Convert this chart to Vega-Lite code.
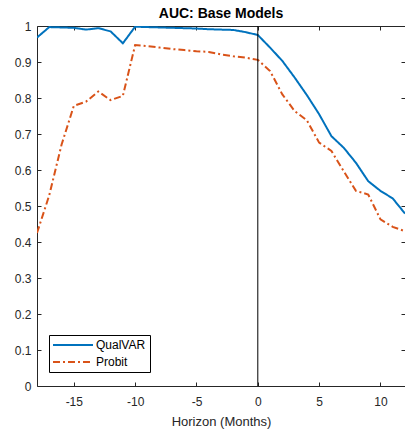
{
  "$schema": "https://vega.github.io/schema/vega-lite/v6.json",
  "width": 368,
  "height": 360,
  "autosize": "none",
  "padding": {"left": 37, "top": 26, "right": 0, "bottom": 44},
  "config": {
    "view": {"stroke": null},
    "font": "Liberation Sans",
    "axis": {"grid": false, "domainColor": "#262626", "tickColor": "#262626", "labelColor": "#262626", "titleColor": "#262626", "labelFont": "Liberation Sans", "titleFont": "Liberation Sans", "labelFontSize": 12, "titleFontSize": 13, "titleFontWeight": "normal", "domainWidth": 1, "tickWidth": 1}
  },
  "title": {"text": "AUC: Base Models", "fontSize": 14, "fontWeight": "bold", "font": "Liberation Sans", "color": "black", "offset": -1, "anchor": "middle"},
  "layer": [
    {
      "data": {"values": [
        {"h": -18, "model": "QualVAR", "auc": 0.968},
        {"h": -17, "model": "QualVAR", "auc": 0.997},
        {"h": -16, "model": "QualVAR", "auc": 0.996},
        {"h": -15, "model": "QualVAR", "auc": 0.995},
        {"h": -14, "model": "QualVAR", "auc": 0.99},
        {"h": -13, "model": "QualVAR", "auc": 0.994},
        {"h": -12, "model": "QualVAR", "auc": 0.985},
        {"h": -11, "model": "QualVAR", "auc": 0.952},
        {"h": -10, "model": "QualVAR", "auc": 0.998},
        {"h": -9, "model": "QualVAR", "auc": 0.997},
        {"h": -8, "model": "QualVAR", "auc": 0.996},
        {"h": -7, "model": "QualVAR", "auc": 0.995},
        {"h": -6, "model": "QualVAR", "auc": 0.994},
        {"h": -5, "model": "QualVAR", "auc": 0.993},
        {"h": -4, "model": "QualVAR", "auc": 0.991},
        {"h": -3, "model": "QualVAR", "auc": 0.99},
        {"h": -2, "model": "QualVAR", "auc": 0.989},
        {"h": -1, "model": "QualVAR", "auc": 0.983},
        {"h": 0, "model": "QualVAR", "auc": 0.975},
        {"h": 1, "model": "QualVAR", "auc": 0.94},
        {"h": 2, "model": "QualVAR", "auc": 0.903},
        {"h": 3, "model": "QualVAR", "auc": 0.857},
        {"h": 4, "model": "QualVAR", "auc": 0.808},
        {"h": 5, "model": "QualVAR", "auc": 0.755},
        {"h": 6, "model": "QualVAR", "auc": 0.694},
        {"h": 7, "model": "QualVAR", "auc": 0.662},
        {"h": 8, "model": "QualVAR", "auc": 0.62},
        {"h": 9, "model": "QualVAR", "auc": 0.569},
        {"h": 10, "model": "QualVAR", "auc": 0.542},
        {"h": 11, "model": "QualVAR", "auc": 0.521},
        {"h": 12, "model": "QualVAR", "auc": 0.479},
        {"h": -18, "model": "Probit", "auc": 0.425},
        {"h": -17, "model": "Probit", "auc": 0.53},
        {"h": -16, "model": "Probit", "auc": 0.67},
        {"h": -15, "model": "Probit", "auc": 0.778},
        {"h": -14, "model": "Probit", "auc": 0.79},
        {"h": -13, "model": "Probit", "auc": 0.818},
        {"h": -12, "model": "Probit", "auc": 0.794},
        {"h": -11, "model": "Probit", "auc": 0.806},
        {"h": -10, "model": "Probit", "auc": 0.947},
        {"h": -9, "model": "Probit", "auc": 0.944},
        {"h": -8, "model": "Probit", "auc": 0.94},
        {"h": -7, "model": "Probit", "auc": 0.936},
        {"h": -6, "model": "Probit", "auc": 0.933},
        {"h": -5, "model": "Probit", "auc": 0.93},
        {"h": -4, "model": "Probit", "auc": 0.928},
        {"h": -3, "model": "Probit", "auc": 0.921},
        {"h": -2, "model": "Probit", "auc": 0.916},
        {"h": -1, "model": "Probit", "auc": 0.912},
        {"h": 0, "model": "Probit", "auc": 0.906},
        {"h": 1, "model": "Probit", "auc": 0.875},
        {"h": 2, "model": "Probit", "auc": 0.81},
        {"h": 3, "model": "Probit", "auc": 0.764},
        {"h": 4, "model": "Probit", "auc": 0.738},
        {"h": 5, "model": "Probit", "auc": 0.676},
        {"h": 6, "model": "Probit", "auc": 0.653},
        {"h": 7, "model": "Probit", "auc": 0.597},
        {"h": 8, "model": "Probit", "auc": 0.542},
        {"h": 9, "model": "Probit", "auc": 0.532},
        {"h": 10, "model": "Probit", "auc": 0.463},
        {"h": 11, "model": "Probit", "auc": 0.442},
        {"h": 12, "model": "Probit", "auc": 0.43}
      ]},
      "mark": {"type": "line", "strokeWidth": 2, "clip": true},
      "encoding": {
        "x": {"field": "h", "type": "quantitative", "scale": {"domain": [-18, 12], "nice": false, "zero": false},
          "axis": {"orient": "bottom", "values": [-15, -10, -5, 0, 5, 10], "labelExpr": "toString(datum.value)", "tickSize": -4, "labelPadding": 14, "title": "Horizon (Months)", "titlePadding": 8}},
        "y": {"field": "auc", "type": "quantitative", "scale": {"domain": [0, 1], "nice": false},
          "axis": {"orient": "left", "values": [0, 0.1, 0.2, 0.3, 0.4, 0.5, 0.6, 0.7, 0.8, 0.9, 1], "format": "~g", "tickSize": -4, "labelPadding": 10, "title": null}},
        "color": {"field": "model", "type": "nominal", "sort": ["QualVAR", "Probit"],
          "scale": {"domain": ["QualVAR", "Probit"], "range": ["#0072BD", "#D95319"]},
          "legend": {"orient": "none", "legendX": 12, "legendY": 309, "title": null, "strokeColor": "black", "fillColor": "white", "padding": 4, "cornerRadius": 0,
            "symbolType": "M-4,0H4", "symbolSize": 100, "symbolStrokeWidth": 2, "symbolOffset": 14, "labelOffset": 17,
            "labelFont": "Liberation Sans", "labelFontSize": 12, "labelColor": "black", "rowPadding": 5}},
        "strokeDash": {"field": "model", "type": "nominal", "sort": ["QualVAR", "Probit"],
          "scale": {"domain": ["QualVAR", "Probit"], "range": [[1, 0], [7, 3, 2, 3]]},
          "legend": {"orient": "none", "legendX": 12, "legendY": 309, "title": null, "strokeColor": "black", "fillColor": "white", "padding": 4, "cornerRadius": 0,
            "symbolType": "M-4,0H4", "symbolSize": 100, "symbolStrokeWidth": 2, "symbolOffset": 14, "labelOffset": 17,
            "labelFont": "Liberation Sans", "labelFontSize": 12, "labelColor": "black", "rowPadding": 5}}
      }
    },
    {
      "data": {"values": [{"h": 0}]},
      "mark": {"type": "rule", "color": "black", "strokeWidth": 1},
      "encoding": {
        "x": {"field": "h", "type": "quantitative", "scale": {"domain": [-18, 12], "nice": false, "zero": false},
          "axis": {"orient": "top", "values": [-15, -10, -5, 0, 5, 10], "tickSize": -4, "labels": false, "title": null}},
        "y": {"datum": 0, "type": "quantitative", "scale": {"domain": [0, 1], "nice": false},
          "axis": {"orient": "right", "values": [0, 0.1, 0.2, 0.3, 0.4, 0.5, 0.6, 0.7, 0.8, 0.9, 1], "tickSize": -4, "labels": false, "title": null}},
        "y2": {"datum": 1}
      }
    }
  ],
  "resolve": {"axis": {"x": "independent", "y": "independent"}}
}
